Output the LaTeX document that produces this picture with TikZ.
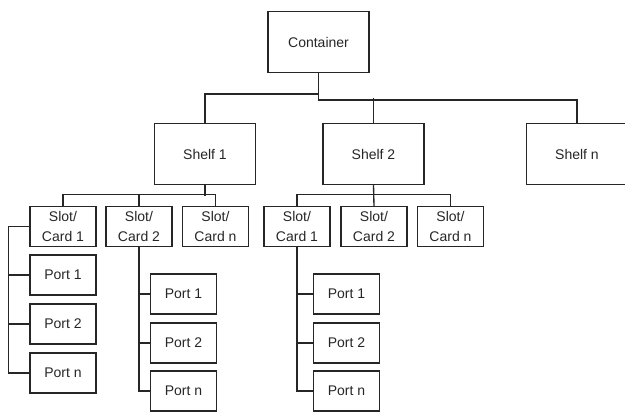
\documentclass[tikz,border=0pt]{standalone}
\usepackage{fontspec}
\setmainfont{Liberation Sans}
\begin{document}
\begin{tikzpicture}[x=1pt,y=-1pt,color=black!85,line width=1.35pt,
		box/.style={draw, inner sep=0pt, align=center, font=\fontsize{14}{20}\selectfont},
		big/.style={box, minimum width=101pt, minimum height=61pt},
		small/.style={box, minimum width=66pt, minimum height=40pt}]
			\useasboundingbox (0,0) rectangle (625,412);
			% top levels
			\node[big] (cont) at (318.5,42) {Container};
			\node[big] (shelf1) at (205,154) {Shelf 1};
			\node[big] (shelf2) at (373.5,154) {Shelf 2};
			\node[big] (shelfn) at (577,154) {Shelf n};
			% slots of shelf 1 and shelf 2
			\node[small] (s1c1) at (63,226.5) {Slot/\\Card 1};
			\node[small] (s1c2) at (139,226.5) {Slot/\\Card 2};
			\node[small] (s1cn) at (215.5,226.5) {Slot/\\Card n};
			\node[small] (s2c1) at (297,226.5) {Slot/\\Card 1};
			\node[small] (s2c2) at (374,226.5) {Slot/\\Card 2};
			\node[small] (s2cn) at (450.5,226.5) {Slot/\\Card n};
			% ports
			\node[small] (c11p1) at (63,275) {Port 1};
			\node[small] (c11p2) at (63,324) {Port 2};
			\node[small] (c11pn) at (63,373) {Port n};
			\node[small] (c12p1) at (183.5,294) {Port 1};
			\node[small] (c12p2) at (183.5,343) {Port 2};
			\node[small] (c12pn) at (183.5,391) {Port n};
			\node[small] (c21p1) at (346.5,294) {Port 1};
			\node[small] (c21p2) at (346.5,343) {Port 2};
			\node[small] (c21pn) at (346.5,391) {Port n};
			% container to shelves
			\draw (cont.south) -- ++(0,21) -| (shelf1.north);
			\draw (cont.south) -- ++(0,27) -| (shelfn.north);
			\draw (shelf2.north) -- ++(0,-25);
			% shelves to slots
			\draw (shelf1.south) -- ++(0,10.5);
			\draw (s1c1.north) -- ++(0,-11) -| (s1cn.north);
			\draw (s1c2.north) -- ++(0,-11);
			\draw (shelf2.south) -- (s2c2.north);
			\draw (s2c1.north) -- ++(0,-11) -| (s2cn.north);
			% slots to ports
			\draw (s1c1.west) -- ++(-21,0) |- (c11pn.west);
			\draw (c11p1.west) -- ++(-21,0);
			\draw (c11p2.west) -- ++(-21,0);
			\draw (s1c2.south) |- (c12pn.west);
			\draw (c12p1.west) -- ++(-10.5,0);
			\draw (c12p2.west) -- ++(-10.5,0);
			\draw (s2c1.south) |- (c21pn.west);
			\draw (c21p1.west) -- ++(-16,0);
			\draw (c21p2.west) -- ++(-16,0);
\end{tikzpicture}
\end{document}
